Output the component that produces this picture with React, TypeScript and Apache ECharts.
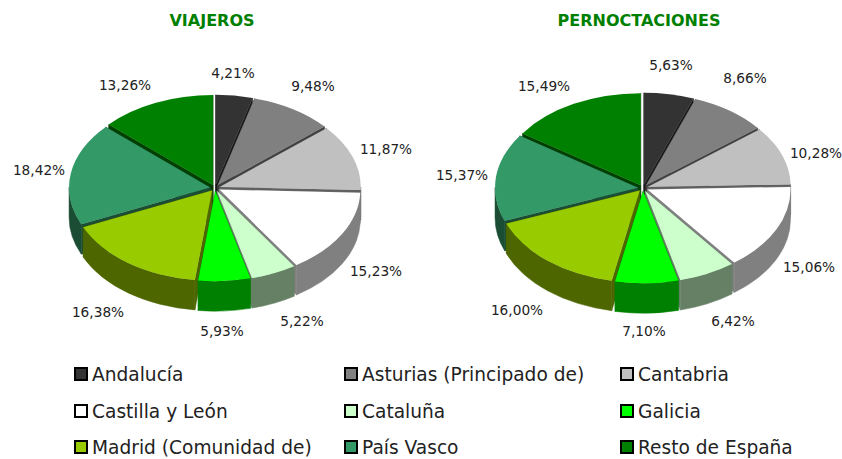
import React, { useEffect, useRef } from "react";
import * as echarts from "echarts";

const categories = ["Andalucía", "Asturias (Principado de)", "Cantabria", "Castilla y León", "Cataluña", "Galicia", "Madrid (Comunidad de)", "País Vasco", "Resto de España"];
const viajeros = [4.21, 9.48, 11.87, 15.23, 5.22, 5.93, 16.38, 18.42, 13.26];
const pernoctaciones = [5.63, 8.66, 10.28, 15.06, 6.42, 7.1, 16.0, 15.37, 15.49];
const topColors = ["#333333", "#808080", "#c0c0c0", "#ffffff", "#ccffcc", "#00ff00", "#99cc00", "#339966", "#008000"];
const wallColors = ["#1a1a1a", "#404040", "#606060", "#808080", "#668066", "#008000", "#4d6600", "#1a4d33", "#004000"];
const titles = ["VIAJEROS", "PERNOCTACIONES"];

// layout only
const FONT = "DejaVu Sans";
const pieLayouts = [
  { cx: 215, cy: 188, rx: 141, ry: 90, depth: 30, explode: 5 },
  { cx: 643, cy: 188, rx: 143, ry: 92, depth: 30, explode: 5 },
];
const labelPositions = [
  [[233, 73], [313, 86], [386, 149], [376, 271], [302, 321], [222, 331], [98, 312], [39, 170], [125, 85]],
  [[671, 65], [745, 78], [816, 153], [809, 267], [733, 321], [644, 331], [517, 310], [462, 175], [544, 86]],
];
const legendCols = [74, 344, 620];
const legendRows = [374, 411, 447];

function makeRenderItem(pieIndex: number, values: number[]) {
  const L = pieLayouts[pieIndex];
  const total = values.reduce((a, b) => a + b, 0);
  return (params: any, api: any) => {
    const i = params.dataIndex;
    const v = api.value(0);
    let before = 0;
    for (let k = 0; k < i; k++) before += values[k];
    const a0 = (before / total) * Math.PI * 2;
    const a1 = ((before + v) / total) * Math.PI * 2;
    const mid = (a0 + a1) / 2;
    const cx = L.cx + L.explode * Math.sin(mid);
    const cy = L.cy - (L.explode * Math.cos(mid) * L.ry) / L.rx;
    const pt = (a: number): [number, number] => [cx + L.rx * Math.sin(a), cy - L.ry * Math.cos(a)];
    const [x0, y0] = pt(a0);
    const [x1, y1] = pt(a1);
    const large = a1 - a0 > Math.PI ? 1 : 0;
    const d = L.depth;
    const base = 10 + Math.round((1 - Math.cos(mid)) * 100);
    const fill = topColors[i];
    const wall = wallColors[i];
    const children: any[] = [];
    const quad = (xa: number, ya: number, z: number) => ({
      type: "path",
      z2: z,
      shape: { pathData: `M${cx} ${cy}L${xa} ${ya}L${xa} ${ya + d}L${cx} ${cy + d}Z` },
      style: { fill: wall, stroke: wall, lineWidth: 0.5 },
    });
    children.push(quad(x0, y0, base));
    children.push(quad(x1, y1, base));
    const f0 = Math.max(a0, Math.PI / 2);
    const f1 = Math.min(a1, (Math.PI * 3) / 2);
    if (f1 > f0) {
      const [ax, ay] = pt(f0);
      const [bx, by] = pt(f1);
      children.push({
        type: "path",
        z2: base + 1,
        shape: {
          pathData: `M${ax} ${ay}A${L.rx} ${L.ry} 0 0 1 ${bx} ${by}L${bx} ${by + d}A${L.rx} ${L.ry} 0 0 0 ${ax} ${ay + d}Z`,
        },
        style: { fill: wall, stroke: wall, lineWidth: 0.5 },
      });
    }
    children.push({
      type: "path",
      z2: 1000,
      shape: { pathData: `M${cx} ${cy}L${x0} ${y0}A${L.rx} ${L.ry} 0 ${large} 1 ${x1} ${y1}Z` },
      style: { fill },
    });
    const [lx, ly] = labelPositions[pieIndex][i];
    children.push({
      type: "text",
      z2: 1100,
      x: lx,
      y: ly,
      style: {
        text: v.toFixed(2).replace(".", ",") + "%",
        fontFamily: FONT,
        fontSize: 13.7,
        fill: "#222222",
        align: "center",
        verticalAlign: "middle",
      },
    });
    return { type: "group", children };
  };
}

export default function App() {
  const ref = useRef<HTMLDivElement>(null);
  useEffect(() => {
    document.body.style.margin = "0";
    const chart = echarts.init(ref.current!, null, { renderer: "svg" });
    const legend: any[] = [];
    categories.forEach((name, i) => {
      const x = legendCols[i % 3];
      const y = legendRows[Math.floor(i / 3)];
      legend.push({
        type: "rect",
        shape: { x: x + 1, y: y - 6, width: 12, height: 12 },
        style: { fill: topColors[i], stroke: "#000", lineWidth: 2 },
      });
      legend.push({
        type: "text",
        x: x + 18,
        y,
        style: { text: name, fontFamily: FONT, fontSize: 18.6, fill: "#222222", verticalAlign: "middle", align: "left" },
      });
    });
    chart.setOption({
      animation: false,
      backgroundColor: "#ffffff",
      title: titles.map((text, i) => ({
        text,
        left: i === 0 ? 207 : 634,
        top: 7,
        textAlign: "center",
        textStyle: { fontFamily: FONT, fontSize: 16, fontWeight: "bold", color: "#008000" },
      })),
      graphic: legend,
      series: [viajeros, pernoctaciones].map((vals, p) => ({
        type: "custom",
        coordinateSystem: "none",
        name: titles[p],
        silent: true,
        clip: false,
        renderItem: makeRenderItem(p, vals),
        data: vals.map((v, i) => ({ name: categories[i], value: [v] })),
      })),
    });
    return () => chart.dispose();
  }, []);
  return <div ref={ref} style={{ width: 842, height: 459 }} />;
}
